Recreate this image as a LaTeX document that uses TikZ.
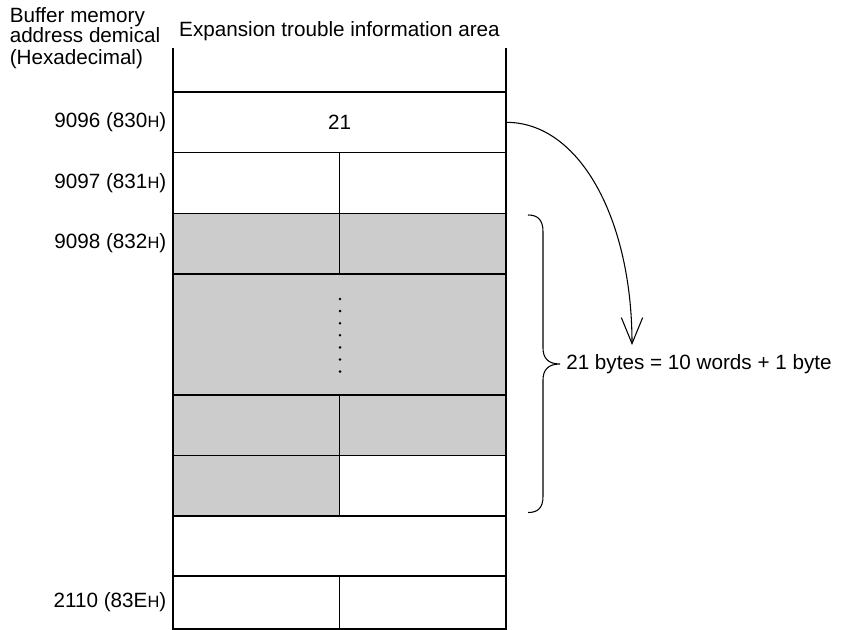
\documentclass[tikz,border=0pt]{standalone}
\usepackage{fontspec}
\setmainfont{Liberation Sans}
\usetikzlibrary{arrows.meta}
\definecolor{cellgray}{HTML}{CCCCCC}
\newcommand{\hsub}{{\fontsize{12.3}{12.3}\selectfont H}}
\begin{document}
\begin{tikzpicture}[x=0.75pt,y=-0.75pt,
  every node/.style={font=\fontsize{15.5}{18}\selectfont},
  cell/.style={draw, line width=0.8pt, inner sep=0pt, outer sep=0pt, anchor=north west},
  full/.style={cell, minimum width=249.75pt},
  half/.style={cell, minimum width=124.875pt},
  shaded/.style={fill=cellgray},
  lbl/.style={anchor=east, inner sep=0pt},
  hdr/.style={anchor=base west, inner sep=0pt},
  conn/.style={line width=0.8pt}
]
\useasboundingbox (0,0) rectangle (841,630);
% header texts
\node[hdr] (h1) at (9.5,22.5) {Buffer memory};
\node[hdr] (h2) at (9.5,43) {address demical};
\node[hdr] (h3) at (9.5,64.5) {(Hexadecimal)};
\node[anchor=base, inner sep=0pt] (title) at (339.5,36.7) {Expansion trouble information area};
% open top
\draw[conn] (173,48) -- (173,92);
\draw[conn] (506,48) -- (506,92);
% rows
\node[full, minimum height=45.5pt] (r1) at (173,92) {21};
\node[half, minimum height=45.5pt] (r2a) at (173,152.7) {};
\node[half, minimum height=45.5pt] (r2b) at (339.5,152.7) {};
\node[half, shaded, minimum height=45.5pt] (r3a) at (173,213.3) {};
\node[half, shaded, minimum height=45.5pt] (r3b) at (339.5,213.3) {};
\node[full, shaded, minimum height=90.75pt] (r4) at (173,274) {};
\node[half, shaded, minimum height=45.4pt] (r5a) at (173,395) {};
\node[half, shaded, minimum height=45.4pt] (r5b) at (339.5,395) {};
\node[half, shaded, minimum height=45.4pt] (r6a) at (173,455.5) {};
\node[half, minimum height=45.4pt] (r6b) at (339.5,455.5) {};
\node[full, minimum height=45pt] (r7) at (173,516) {};
\node[half, minimum height=39.75pt] (r8a) at (173,576) {};
\node[half, minimum height=39.75pt] (r8b) at (339.5,576) {};
% dots
\foreach \k in {0,...,6} \fill (340,{299+12.1*\k}) circle (1.4);
% address labels
\node[lbl] (a1) at (166.5,122.3) {9096 (830\hsub)};
\node[lbl] (a2) at (166.5,183) {9097 (831\hsub)};
\node[lbl] (a3) at (166.5,243.6) {9098 (832\hsub)};
\node[lbl] (a4) at (166.5,602.5) {2110 (83E\hsub)};
% arrow
\coordinate (tip) at (632,345);
\draw[conn, -{Straight Barb[length=19.5pt, width=16pt, line width=0.8pt]}]
  (r1.east) .. controls (580,122) and (632,220) .. (tip);
% brace
\draw[conn] (528,215) .. controls (538,215) and (543,220) .. (543,232)
  -- (543,348) .. controls (543,358) and (548,364) .. (560,364)
  .. controls (548,364) and (543,370) .. (543,380)
  -- (543,496) .. controls (543,508) and (538,512.5) .. (528,512.5);
\node[anchor=west, inner sep=0pt] (note) at (566,364) {21 bytes = 10 words + 1 byte};
\end{tikzpicture}
\end{document}
